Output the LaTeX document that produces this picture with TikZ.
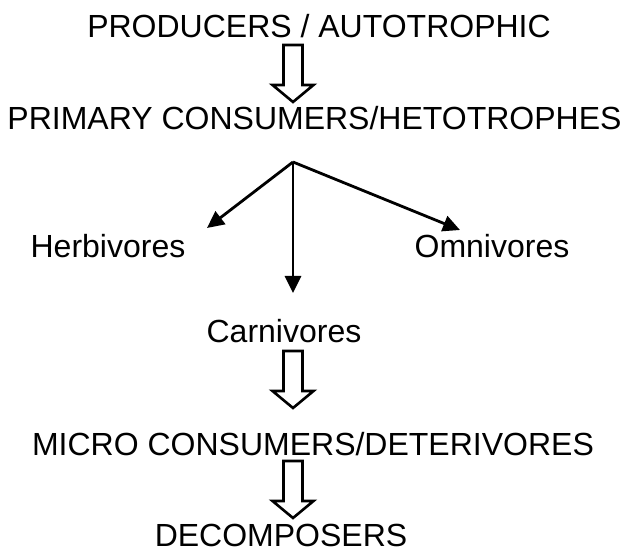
\documentclass[tikz,border=0pt]{standalone}
\usepackage{fontspec}
\setmainfont{Liberation Sans}
\usetikzlibrary{arrows.meta}
\tikzset{
  lbl/.style={anchor=base, inner sep=0pt, font=\fontsize{32}{38}\selectfont},
  branch/.style={line width=2.8pt, -{Triangle[length=17pt,width=16pt]}},
  hollowarrow/.pic={\draw[line width=2.6pt, line join=miter]
     (-9.5,0) -- (9.5,0) -- (9.5,40) -- (20.5,40) -- (0,57) -- (-20.5,40) -- (-9.5,40) -- cycle;}
}
\begin{document}
\begin{tikzpicture}[x=1pt,y=-1pt]
\useasboundingbox (0,0) rectangle (627,553);
\node[lbl] (prod) at (319,38) {PRODUCERS / AUTOTROPHIC};
\node[lbl] (prim) at (314.5,130) {PRIMARY CONSUMERS/HETOTROPHES};
\node[lbl] (herb) at (108,258) {Herbivores};
\node[lbl] (omni) at (492,258) {Omnivores};
\node[lbl] (carn) at (284,343) {Carnivores};
\node[lbl] (micro) at (313,455) {MICRO CONSUMERS/DETERIVORES};
\node[lbl] (decomp) at (281,546) {DECOMPOSERS};
\coordinate (fork) at (293,162);
\coordinate (herbtip) at (207,228);
\coordinate (carntip) at (293,293);
\coordinate (omnitip) at (460,230);
\draw[branch] (fork) -- (herbtip);
\draw[branch] (fork) -- (carntip);
\draw[branch] (fork) -- (omnitip);
\pic at (293,45) {hollowarrow};
\pic at (293,351) {hollowarrow};
\pic at (293,461) {hollowarrow};
\end{tikzpicture}
\end{document}
